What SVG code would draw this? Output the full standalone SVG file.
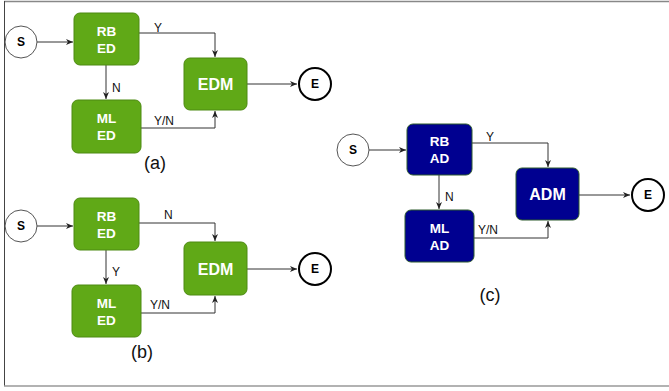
<svg xmlns="http://www.w3.org/2000/svg" width="669" height="391" viewBox="0 0 669 391">
<defs>
<marker id="ah" markerWidth="8" markerHeight="8" refX="7" refY="4" orient="auto" markerUnits="userSpaceOnUse">
<path d="M0,1 L7,4 L0,7 L2,4 Z" fill="#222"/>
</marker>
<style>
.g{fill:#60a917;stroke:#4d8a12;stroke-width:1}
.b{fill:#000090;stroke:#2d5a2d;stroke-width:1}
.bt{font-family:"Liberation Sans",Arial,sans-serif;font-weight:bold;fill:#fff;font-size:13.5px;text-anchor:middle}
.big{font-size:16px}
.s{fill:#fff;stroke:#555;stroke-width:1}
.e{fill:#fff;stroke:#000;stroke-width:2}
.ct{font-family:"Liberation Sans",Arial,sans-serif;font-weight:bold;fill:#000;font-size:12px;text-anchor:middle}
.c{fill:none;stroke:#333;stroke-width:1;marker-end:url(#ah)}
.lb{font-family:"Liberation Sans",Arial,sans-serif;fill:#111;font-size:12px}
.cap{font-family:"Liberation Sans",Arial,sans-serif;fill:#111;font-size:18px;text-anchor:middle}
</style>
</defs>
<rect width="669" height="391" fill="#fff"/>
<line x1="4" y1="1.5" x2="669" y2="1.5" stroke="#888" stroke-width="1.5"/>
<line x1="4.5" y1="1" x2="4.5" y2="386" stroke="#444" stroke-width="1"/>
<line x1="4" y1="386" x2="669" y2="386" stroke="#999" stroke-width="1.5"/>

<g id="connectors">
<path class="c" d="M37,42 H73"/>
<path class="c" d="M139,33 H215 V57"/>
<path class="c" d="M106,65 V99"/>
<path class="c" d="M141,128 H215 V111"/>
<path class="c" d="M247,84 H297"/>

<path class="c" d="M37,226 H73"/>
<path class="c" d="M139,223 H215 V241"/>
<path class="c" d="M106,250 V284"/>
<path class="c" d="M141,313 H215 V296"/>
<path class="c" d="M247,269 H297"/>

<path class="c" d="M369,150 H406"/>
<path class="c" d="M472,143 H548 V167"/>
<path class="c" d="M439,175 V209"/>
<path class="c" d="M474,238 H548 V221"/>
<path class="c" d="M579,195 H630"/>
</g>
<g id="edge-labels">
<text class="lb" x="154" y="32">Y</text>
<text class="lb" x="112" y="92">N</text>
<text class="lb" x="154" y="125">Y/N</text>
<text class="lb" x="164" y="219">N</text>
<text class="lb" x="112" y="276">Y</text>
<text class="lb" x="150" y="309">Y/N</text>
<text class="lb" x="486" y="141">Y</text>
<text class="lb" x="445" y="201">N</text>
<text class="lb" x="478" y="234">Y/N</text>
</g>

<g id="a-S"><circle class="s" cx="21" cy="42" r="16"/><text class="ct" x="21" y="46">S</text></g>
<g id="a-RBED"><rect class="g" x="74" y="13" width="65" height="52" rx="6"/><text class="bt" x="106.5" y="36">RB</text><text class="bt" x="106.5" y="53">ED</text></g>
<g id="a-EDM"><rect class="g" x="184" y="58" width="63" height="52" rx="6"/><text class="bt big" x="215.5" y="90">EDM</text></g>
<g id="a-MLED"><rect class="g" x="72" y="100" width="69" height="53" rx="6"/><text class="bt" x="106.5" y="123">ML</text><text class="bt" x="106.5" y="140">ED</text></g>
<g id="a-E"><circle class="e" cx="315" cy="84" r="16"/><text class="ct" x="315" y="88">E</text></g>
<text class="cap" x="155" y="169">(a)</text>

<g id="b-S"><circle class="s" cx="21" cy="226" r="16"/><text class="ct" x="21" y="230">S</text></g>
<g id="b-RBED"><rect class="g" x="74" y="198" width="65" height="52" rx="6"/><text class="bt" x="106.5" y="221">RB</text><text class="bt" x="106.5" y="238">ED</text></g>
<g id="b-EDM"><rect class="g" x="184" y="242" width="63" height="53" rx="6"/><text class="bt big" x="215.5" y="275">EDM</text></g>
<g id="b-MLED"><rect class="g" x="72" y="285" width="69" height="52" rx="6"/><text class="bt" x="106.5" y="308">ML</text><text class="bt" x="106.5" y="325">ED</text></g>
<g id="b-E"><circle class="e" cx="315" cy="269" r="16"/><text class="ct" x="315" y="273">E</text></g>
<text class="cap" x="142" y="358">(b)</text>

<g id="c-S"><circle class="s" cx="353" cy="150" r="16"/><text class="ct" x="353" y="154">S</text></g>
<g id="c-RBAD"><rect class="b" x="407" y="124" width="65" height="51" rx="6"/><text class="bt" x="439.5" y="146">RB</text><text class="bt" x="439.5" y="163">AD</text></g>
<g id="c-ADM"><rect class="b" x="516" y="168" width="63" height="52" rx="6"/><text class="bt big" x="547.5" y="200">ADM</text></g>
<g id="c-MLAD"><rect class="b" x="405" y="210" width="69" height="52" rx="6"/><text class="bt" x="439.5" y="233">ML</text><text class="bt" x="439.5" y="250">AD</text></g>
<g id="c-E"><circle class="e" cx="648" cy="195" r="16"/><text class="ct" x="648" y="199">E</text></g>
<text class="cap" x="490" y="301">(c)</text>
</svg>
